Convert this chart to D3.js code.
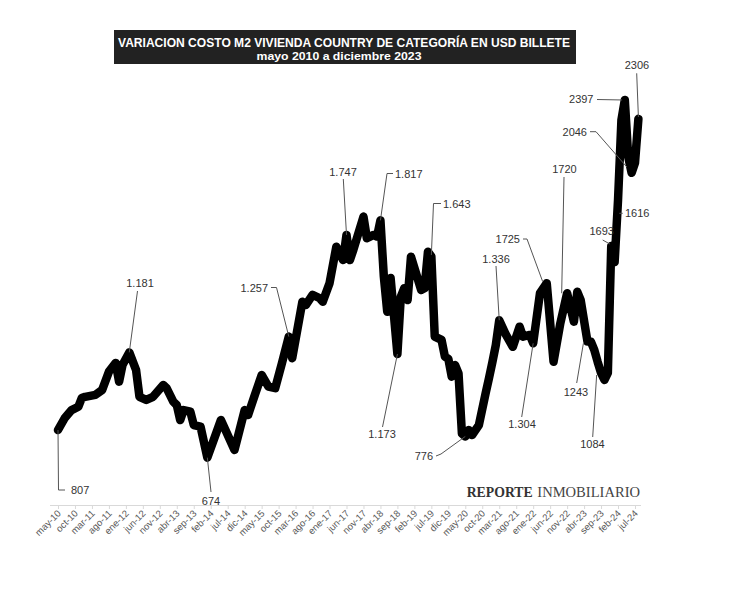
<!DOCTYPE html>
<html>
<head>
<meta charset="utf-8">
<script src="https://cdn.jsdelivr.net/npm/d3@7"></script>
<style>
  html, body { margin: 0; padding: 0; background: #fff; }
  svg { display: block; }
</style>
</head>
<body>
<svg id="chart" width="729" height="591"></svg>
<script>
// ---------------- DATA ----------------
const months = [
  "2010-05","2010-07","2010-09","2010-11","2010-12","2011-01","2011-04","2011-06","2011-08","2011-10",
  "2011-11","2011-12","2012-02","2012-04","2012-05","2012-07","2012-09","2012-12","2013-01","2013-03",
  "2013-04","2013-05","2013-06","2013-08","2013-09","2013-11","2014-01","2014-05","2014-09","2014-12",
  "2015-01","2015-03","2015-05","2015-07","2015-09","2015-11","2016-01","2016-02","2016-05","2016-06",
  "2016-08","2016-10","2016-11","2017-01","2017-03","2017-05","2017-06","2017-07","2017-08","2017-11",
  "2017-12","2018-02","2018-03","2018-04","2018-05","2018-06","2018-07","2018-09","2018-10","2018-11",
  "2018-12","2019-01","2019-04","2019-05","2019-06","2019-07","2019-08","2019-10","2019-11","2019-12",
  "2020-01","2020-02","2020-03","2020-04","2020-05","2020-06","2020-07","2020-09","2020-11","2020-12",
  "2021-01","2021-02","2021-03","2021-05","2021-07","2021-09","2021-10","2021-12","2022-01","2022-03",
  "2022-05","2022-07","2022-09","2022-11","2023-01","2023-02","2023-03","2023-05","2023-06","2023-07",
  "2023-08","2023-09","2023-10","2023-11","2023-12","2024-01","2024-02","2024-03","2024-04","2024-05",
  "2024-06","2024-07","2024-08"
];
const values = [
  807, 865, 903, 919, 961, 967, 976, 1000, 1088, 1130,
  1040, 1120, 1181, 1096, 967, 952, 967, 1024, 1009, 943,
  927, 855, 903, 895, 831, 823, 674, 855, 711, 903,
  879, 976, 1072, 1016, 1009, 1130, 1257, 1153, 1425, 1409,
  1458, 1443, 1425, 1514, 1690, 1626, 1747, 1626, 1674, 1835,
  1731, 1747, 1739, 1817, 1546, 1377, 1539, 1173, 1449, 1490,
  1433, 1642, 1482, 1490, 1666, 1643, 1257, 1241, 1160, 1150,
  1064, 1120, 1080, 790, 776, 807, 783, 831, 985, 1058,
  1135, 1217, 1336, 1265, 1208, 1305, 1257, 1265, 1225, 1466,
  1514, 1136, 1321, 1466, 1329, 1473, 1433, 1233, 1233, 1193,
  1135, 1082, 1048, 1082, 1693, 1616, 1915, 2301, 2397, 2123,
  2046, 2094, 2306
];
const tickLabels = [
  "may-10","oct-10","mar-11","ago-11","ene-12","jun-12","nov-12","abr-13","sep-13","feb-14",
  "jul-14","dic-14","may-15","oct-15","mar-16","ago-16","ene-17","jun-17","nov-17","abr-18",
  "sep-18","feb-19","jul-19","dic-19","may-20","oct-20","mar-21","ago-21","ene-22","jun-22",
  "nov-22","abr-23","sep-23","feb-24","jul-24"
];
const titleLines = ["VARIACION COSTO M2 VIVIENDA COUNTRY DE CATEGORÍA EN USD BILLETE", "mayo 2010 a diciembre 2023"];
const annotTexts   = ["807","674","1.181","1.257","1.747","1.817","1.643","1.173","776","1.336","1.304","1725","1720","1243","1084","1693","1616","2046","2397","2306"];
const annotMonths  = [0, 44, 21, 68, 85, 95, 110, 100, 120, 130, 140, 142.8, 148.4, 154.8, 158.7, 162.6, null, 167.6, 166.2, 171];
const annotValues  = [807, 674, 1181, 1257, 1747, 1817, 1650, 1173, 776, 1336, 1225, 1522, 1466, 1225, 1072, 1703, null, 2074, 2397, 2315];

// ---------------- LAYOUT ----------------
const W = 729, H = 591;
const annotLayout = [
  {tx:71,  ty:494, a:"start",  p:[[65,490],[58.5,490]]},
  {tx:211, ty:505, a:"middle", p:[[211,492]]},
  {tx:140, ty:287, a:"middle", p:[[137.5,291]]},
  {tx:268, ty:292, a:"end",    p:[[271,287.5],[276.5,287.5]]},
  {tx:343, ty:176, a:"middle", p:[[343.3,179]]},
  {tx:395, ty:178, a:"start",  p:[[393,173.5],[387,173.5]]},
  {tx:443, ty:208, a:"start",  p:[[441,203.5],[433.5,203.5]]},
  {tx:382, ty:438, a:"middle", p:[[382.5,427]]},
  {tx:433, ty:460, a:"end",    p:[[436,456],[441,454]]},
  {tx:496, ty:263, a:"middle", p:[[496,266]]},
  {tx:522, ty:428, a:"middle", p:[[521.7,417]]},
  {tx:520, ty:243, a:"end",    p:[[523,239],[527,239]]},
  {tx:564.5, ty:173, a:"middle", p:[[564,177]]},
  {tx:576, ty:396, a:"middle", p:[[576.7,383]]},
  {tx:592.5, ty:448, a:"middle", p:[[592.7,437]]},
  {tx:601.7, ty:235, a:"middle", p:[[602.7,240]]},
  {tx:625, ty:217, a:"start",  p:[[619.3,213.3],[622.7,213.3]]},
  {tx:587, ty:136, a:"end",    p:[[590,131.7],[596,131.7]]},
  {tx:593.5, ty:103, a:"end",  p:[[597,99.5]]},
  {tx:637, ty:69,  a:"middle", p:[[636.7,73.3]]}
];

const monthIndex = s => { const [y, m] = s.split("-").map(Number); return (y - 2010) * 12 + (m - 5); };

const x = d3.scaleLinear().domain([0, 170]).range([58, 635]);
const y = d3.scaleLinear().domain([400, 2500]).range([514.5, 78.6]);

const svg = d3.select("#chart");
svg.append("rect").attr("width", W).attr("height", H).attr("fill", "#fff");

// Title box
svg.append("rect").attr("x", 114).attr("y", 30).attr("width", 462).attr("height", 34).attr("fill", "#222");
svg.append("text").attr("x", 344).attr("y", 46.5).attr("text-anchor", "middle")
  .attr("font-family", "Liberation Sans, Arial, sans-serif").attr("font-weight", "bold")
  .attr("font-size", 13.5).attr("fill", "#fff")
  .attr("textLength", 452).attr("lengthAdjust", "spacingAndGlyphs").text(titleLines[0]);
svg.append("text").attr("x", 339).attr("y", 59.5).attr("text-anchor", "middle")
  .attr("font-family", "Liberation Sans, Arial, sans-serif").attr("font-weight", "bold")
  .attr("font-size", 11.5).attr("fill", "#fff")
  .attr("textLength", 165).attr("lengthAdjust", "spacingAndGlyphs").text(titleLines[1]);

// Watermark
svg.append("text").attr("x", 466.7).attr("y", 496.5)
  .attr("font-family", "Liberation Serif, Times New Roman, serif").attr("font-weight", "bold")
  .attr("font-size", 14).attr("fill", "#333")
  .attr("textLength", 66).attr("lengthAdjust", "spacingAndGlyphs").text("REPORTE");
svg.append("text").attr("x", 537.3).attr("y", 496.5)
  .attr("font-family", "Liberation Serif, Times New Roman, serif")
  .attr("font-size", 14.5).attr("fill", "#444")
  .attr("textLength", 102.7).attr("lengthAdjust", "spacingAndGlyphs").text("INMOBILIARIO");

// X axis
const tickVals = tickLabels.map((d, i) => i * 5);
const axis = d3.axisBottom(x).tickValues(tickVals).tickSize(4).tickSizeOuter(0)
  .tickFormat((d, i) => tickLabels[i]);
const gx = svg.append("g").attr("transform", "translate(0,505)").call(axis);
gx.select(".domain").attr("stroke", "#d9d9d9").attr("d", "M50,0.5H641");
gx.selectAll(".tick line").attr("stroke", "#d9d9d9");
gx.selectAll(".tick text")
  .attr("font-family", "Liberation Sans, Arial, sans-serif").attr("font-size", 9.5)
  .attr("fill", "#595959").attr("text-anchor", "end")
  .attr("dy", null).attr("y", 0)
  .attr("transform", "translate(3,9) rotate(-45)");

// Line
const data = months.map((m, i) => ({ m: monthIndex(m), v: values[i] }));
const line = d3.line().x(d => x(d.m)).y(d => y(d.v)).curve(d3.curveLinear);
svg.append("path").datum(data).attr("d", line)
  .attr("fill", "none").attr("stroke", "#000").attr("stroke-width", 8.5)
  .attr("stroke-linejoin", "round").attr("stroke-linecap", "round");

// Annotations
const ag = svg.append("g");
annotTexts.forEach((t, i) => {
  const L = annotLayout[i];
  const pts = L.p.slice();
  if (annotMonths[i] !== null) pts.push([x(annotMonths[i]), y(annotValues[i])]);
  ag.append("path").attr("d", d3.line()(pts)).attr("fill", "none")
    .attr("stroke", "#555").attr("stroke-width", 1);
  ag.append("text").attr("x", L.tx).attr("y", L.ty).attr("text-anchor", L.a)
    .attr("font-family", "Liberation Sans, Arial, sans-serif").attr("font-size", 11)
    .attr("fill", "#333").text(t);
});
</script>
</body>
</html>
